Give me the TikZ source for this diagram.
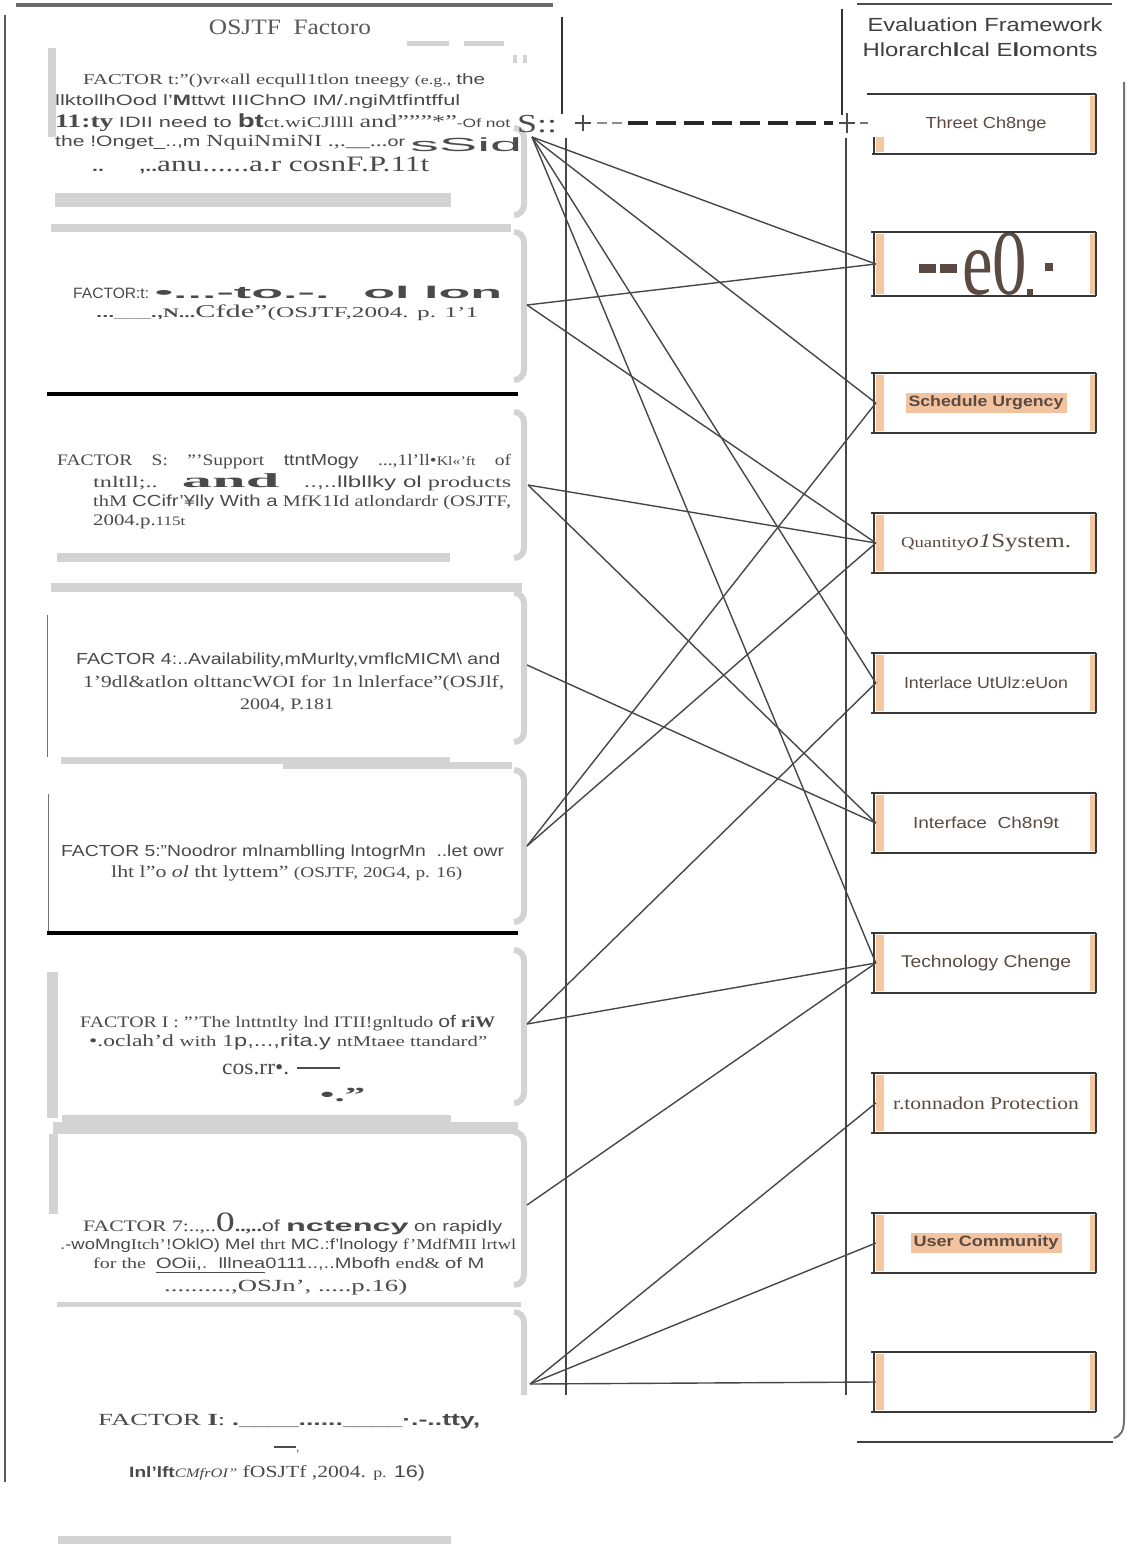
\documentclass[tikz,border=0pt]{standalone}
\usepackage{fontspec}
\setmainfont{Liberation Serif}
\setsansfont{Liberation Sans}
\usetikzlibrary{calc}
\definecolor{txt}{HTML}{4A4A4A}
\definecolor{dtxt}{HTML}{3A3A3A}
\definecolor{btxt}{HTML}{5A4A42}
\definecolor{lgr}{HTML}{D3D3D3}
\definecolor{boxor}{HTML}{F5C7A1}
\definecolor{hl}{HTML}{F3C3A0}
\definecolor{ln}{HTML}{474747}
\definecolor{bl}{HTML}{383838}
\newcommand\fs[1]{\fontsize{#1pt}{#1pt}\selectfont}
\newcommand\tR{\rmfamily}
\newcommand\tS{\sffamily}
\newcommand\fw[2]{\resizebox{#1pt}{\height}{#2}}
\begin{document}
\begin{tikzpicture}[x=1pt,y=-1pt,
  txtl/.style={anchor=west,inner sep=0pt,text=txt},
  txtc/.style={anchor=center,inner sep=0pt,text=txt},
  edge/.style={draw=ln,line width=1.4pt},
  vline/.style={draw=ln,line width=1.6pt},
  bar/.style={fill=lgr},
  brk/.style={draw=lgr,line width=6pt,rounded corners=10pt},
  evbox/.style={rectangle,minimum width=220pt,minimum height=60pt,inner sep=0pt,text=btxt},
  boxline/.style={draw=bl,line width=1.8pt},
  dashline/.style={draw=black!85,line width=3.5pt,dash pattern=on 20pt off 8pt}
]
\useasboundingbox (0,0) rectangle (1127,1544);
\fill[white] (0,0) rectangle (1127,1544);

% ---------- left frame ----------
\draw[draw=black!58,line width=3.5pt] (16,5) -- (553,5);
\draw[draw=black!65,line width=1.6pt] (5,15) -- (5,1482);
\draw[draw=black!80,line width=1.3pt] (562,17) -- (562,114);
\node[txtc,text=black!65] (ttl) at (290,27) {\fw{162}{\tR\fs{22}OSJTF\ \ Factoro}};
\fill[bar] (407,41) rectangle (449,46);
\fill[bar] (464,41) rectangle (504,46);
\fill[bar] (513,55) rectangle (517,63);
\fill[bar] (523,55) rectangle (527,63);
\fill[bar] (48,48) rectangle (56,137);

% gray brackets
\draw[brk] (514,128) -- (524,128) -- (524,215) -- (514,215);
\draw[brk] (514,232) -- (524,232) -- (524,380) -- (514,380);
\draw[brk] (514,412) -- (524,412) -- (524,558) -- (514,558);
\draw[brk] (514,593) -- (524,593) -- (524,742) -- (514,742);
\draw[brk] (514,770) -- (524,770) -- (524,922) -- (514,922);
\draw[brk] (514,950) -- (524,950) -- (524,1103) -- (514,1103);
\draw[brk] (514,1132) -- (524,1132) -- (524,1285) -- (514,1285);
\draw[brk] (514,1312) -- (524,1312) -- (524,1395);

% gray bars and rules
\fill[bar] (55,193) rectangle (451,207);
\fill[bar] (51,224) rectangle (511,232);
\draw[draw=black,line width=4pt] (47,394) -- (518,394);
\fill[bar] (57,553) rectangle (450,562);
\fill[bar] (51,583) rectangle (522,592);
\draw[draw=black!55,line width=1pt] (47,615) -- (47,757);
\fill[bar] (61,757) rectangle (450,764);
\fill[bar] (283,762) rectangle (512,769);
\draw[draw=black!55,line width=1pt] (48,794) -- (48,933);
\draw[draw=black,line width=4pt] (47,933) -- (518,933);
\fill[bar] (47,972) rectangle (58,1118);
\fill[bar] (62,1115) rectangle (451,1122);
\fill[bar] (53,1122) rectangle (518,1134);
\fill[bar] (49,1134) rectangle (58,1214);
\fill[bar] (57,1302) rectangle (521,1307);
\fill[bar] (58,1536) rectangle (451,1545);

% ---------- factor texts ----------
% F1
\node[txtl] (f1a) at (83,81) {\fw{402}{\tR\fs{15}FACTOR t:"()vr«all ecqull1tlon tneegy {\fs{13}(e.g.,} \tS the}};
\node[txtl] (f1b) at (55,102) {\fw{405}{\tS\fs{15}llktollhOod l'{\bfseries M}ttwt IIIChnO IM/.ngiMtfintfful}};
\node[txtl] (f1c) at (55,123) {\fw{455}{\fs{15}{\tR\bfseries\fs{19}11:ty} \tS IDII need to {\bfseries\fs{19}bt}\tR ct.wiCJllll {\fs{18}and"""*"}\tS\fs{12}-Of not}};
\node[txtl,text=black!70] (f1s) at (517,124) {\fw{40}{\tR\fs{26}S::}};
\node[txtl] (f1d) at (55,143) {\fw{350}{\tS\fs{15}the !Onget\_..,m \tR\fs{17}NquiNmiNI .,.\_\_...\tS\fs{14}or}};
\node[txtl,text=black!70] (f1e) at (410,145) {\fw{112}{\tS\fs{19}sSid}};
\node[txtl] (f1f) at (92,165) {\fw{337}{\tS\bfseries\fs{15}..\hspace{25pt},..\tR\mdseries\fs{22}anu......a.r cosnF.P.11t}};
% F2
\node[txtl] (f2a) at (73,292) {\fw{429}{\tS\fs{15}FACTOR:t: \fw{334}{\bfseries\fs{17}•...-to.-. \ ol lon}}};
\node[txtl] (f2b) at (96,313) {\fw{382}{\tS\bfseries\fs{13}...\_\_\_.,\tR N...\mdseries\fs{18}Cfde''\fs{15}(OSJTF,2004. p. 1'1}};
% F3
\node[txtl] (f3a) at (57,462) {\fw{454}{\tR\fs{16}FACTOR\quad S:\quad "'Support\quad {\tS ttntMogy}\quad ...,1l'll•{\fs{13}Kl«'ft}\quad of}};
\node[txtl] (f3b) at (93,482) {\fw{418}{\tR\fs{16}tnltll;..\quad {\bfseries\fs{20}\scalebox{2}[1]{and}}\quad {\tS ..,..llbllky ol} products}};
\node[txtl] (f3c) at (93,502) {\fw{418}{\tR\fs{16}thM {\tS CCifr'¥lly With a} MfK1Id atlondardr (OSJTF,}};
\node[txtl] (f3d) at (93,522) {\fw{92}{\tR\fs{16}2004.p.{\fs{13}115t}}};
% F4
\node[txtl] (f4a) at (76,660) {\fw{424}{\tS\fs{16}FACTOR 4:..Availability,mMurlty,vmflcMICM\textbackslash\ and}};
\node[txtl] (f4b) at (83,683) {\fw{421}{\tR\fs{17}1'9dl\&atlon olttancWOI for 1n lnlerface''(OSJlf,}};
\node[txtl] (f4c) at (240,705) {\fw{94}{\tR\fs{16}2004, P.181}};
% F5
\node[txtl] (f5a) at (61,852) {\fw{443}{\tS\fs{16}FACTOR 5:"Noodror mlnamblling lntogrMn \ ..let owr}};
\node[txtl] (f5b) at (111,873) {\fw{351}{\tR\fs{17}lht l''o {\itshape ol} tht lyttem" {\fs{15}(OSJTF, 20G4, p. 16)}}};
% F6
\node[txtl] (f6a) at (80,1023) {\fw{415}{\tR\fs{16}FACTOR I : "'The lnttntlty lnd ITII!gnltudo {\tS\fs{17}of} {\bfseries riW}}};
\node[txtl] (f6b) at (89,1042) {\fw{398}{\tR\fs{17}•.oclah'd {\fs{15}with} 1{\tS p,...,rita.y} {\fs{15}ntMtaee ttandard"}}};
\node[txtl] (f6c) at (222,1069) {\fw{67}{\tR\fs{22}cos.rr•.}};
\draw[draw=black!70,line width=2pt] (297,1068) -- (340,1068);
\node[txtl] (f6d) at (320,1095) {\fw{45}{\tR\bfseries\fs{20}•.''}};
% F7
\node[txtl] (f7a) at (83,1224) {\fw{419}{\tR\fs{16}FACTOR 7:..,..{\fs{28}0}{\bfseries..,..}{\tS of \bfseries\scalebox{1.5}[1]{nctency}} {\tS\fs{15}on rapidly}}};
\node[txtl] (f7b) at (60,1246) {\fw{456}{\tS\fs{15}.-woMng{\tR Itch'!}OklO) Mel {\tR thrt} MC.:f'lnology {\tR f'MdfMII lrtwl}}};
\node[txtl] (f7c) at (93,1265) {\fw{391}{\tR\fs{15}for the \ {\tS\underline{OOii,.\ \ lllnea}0111..,..Mbofh} end\& {\tS of M}}};
\node[txtl] (f7d) at (164,1287) {\fw{243}{\tR\fs{17}..........,OSJn', .....p.16)}};
% F8
\node[txtl] (f8a) at (98,1422) {\fw{382}{\tR\fs{17}FACTOR {\bfseries I}: {\tS\bfseries .\_\_\_\_......\_\_\_\_·.-..tty,}}};
\draw[draw=black!70,line width=1.5pt] (274,1447) -- (296,1447);
\node[txtl] (f8c) at (296,1452) {\tS\fs{12},};
\node[txtl] (f8b) at (129,1473) {\fw{296}{\tS\bfseries\fs{15}Inl'lft{\tR\itshape\mdseries\fs{13}CMfrOI"} \tR\mdseries\fs{17}fOSJTf ,2004. {\fs{14}p.} \tS 16)}};

% ---------- right frame ----------
\draw[draw=black!70,line width=1.5pt] (857,4) -- (1112,4);
\draw[draw=black!80,line width=1.3pt] (842,9) -- (842,115);
\draw[draw=black!55,line width=2pt] (1124,82) -- (1124,1420) .. controls (1124,1430) and (1121,1436) .. (1114,1438);
\draw[draw=black!75,line width=1.8pt] (857,1442) -- (1113,1442);
\node[txtc,text=black!75] (rt1) at (985,25) {\fw{235}{\tS\fs{19}Evaluation Framework}};
\node[txtc,text=black!75] (rt2) at (980,50) {\fw{235}{\tS\fs{19}Hlorarch{\bfseries l}cal E{\bfseries l}omonts}};

% ---------- evaluation boxes ----------
\node[evbox] (t1) at (986,124) {\fw{121}{\tS\fs{16}Threet Ch8nge}};
\node[evbox] (t2) at (986,264) {\rule[22pt]{17pt}{9pt}\hspace{4pt}\rule[22pt]{17pt}{9pt}\hspace{5pt}\resizebox{65pt}{62pt}{\tR e0}\rule{6pt}{6pt}\hspace{12pt}\rule[24pt]{8pt}{8pt}};
\node[evbox] (t3) at (986,403) {\colorbox{hl}{\fw{155}{\tS\bfseries\fs{15}Schedule Urgency}}};
\node[evbox] (t4) at (986,543) {\fw{170}{\tR\fs{15}Quantity{\itshape\fs{20}o1}{\fs{20}System.}}};
\node[evbox] (t5) at (986,683) {\fw{164}{\tS\fs{16}Interlace UtUlz:eUon}};
\node[evbox] (t6) at (986,823) {\fw{146}{\tS\fs{16}Interface \ Ch8n9t}};
\node[evbox] (t7) at (986,963) {\fw{170}{\tS\fs{17}Technology Chenge}};
\node[evbox] (t8) at (986,1103) {\fw{186}{\tR\fs{18}r.tonnadon Protection}};
\node[evbox] (t9) at (986,1243) {\colorbox{hl}{\fw{145}{\tS\bfseries\fs{15}User Community}}};
\node[evbox] (t10) at (986,1382) {};

\foreach \n in {t2,t3,t4,t5,t6,t7,t8,t9,t10}{
  \fill[boxor] ($(\n.north west)+(0,2)$) rectangle ($(\n.south west)+(8,-2)$);
  \draw[boxline] ($(\n.north west)+(-2,0)$) -- ($(\n.south west)+(-2,0)$);
  \draw[boxline] ($(\n.north west)+(-5,0)$) -- (\n.north east);
  \draw[boxline] ($(\n.south west)+(-5,0)$) -- (\n.south east);
}
\fill[boxor] ($(t1.south west)+(0,-17)$) rectangle ($(t1.south west)+(8,-2)$);
\draw[boxline] ($(t1.south west)+(-2,-17)$) -- ($(t1.south west)+(-2,0)$);
\draw[boxline] ($(t1.north west)+(-9,0)$) -- (t1.north east);
\draw[boxline] ($(t1.south west)+(-4,0)$) -- (t1.south east);
\foreach \n in {t1,t2,t3,t4,t5,t6,t7,t8,t9,t10}{
  \fill[boxor] ($(\n.north east)+(-6,2)$) rectangle ($(\n.south east)+(0,-2)$);
  \draw[boxline] (\n.north east) -- (\n.south east);
}

% ---------- vertical guide lines ----------
\coordinate (v1t) at (566,138); \coordinate (v1b) at (566,1395);
\coordinate (v2t) at (846,138); \coordinate (v2b) at (846,1395);
\draw[vline] (v1t) -- (v1b);
\draw[vline] (v2t) -- (v2b);

% ---------- dashed link ----------
\draw[draw=black!70,line width=1.2pt] (575,123) -- (591,123) (583,115) -- (583,131);
\draw[draw=black!45,line width=2pt] (597,123) -- (607,123) (612,123) -- (622,123);
\coordinate (ds1) at (628,123); \coordinate (ds2) at (833,123);
\draw[dashline] (ds1) -- (ds2);
\draw[draw=black!70,line width=1.2pt] (839,123) -- (855,123) (847,113) -- (847,133);
\draw[draw=black!55,line width=2pt] (860,123) -- (868,123);

% ---------- connectors ----------
\coordinate (a1) at (532,137);
\coordinate (a2) at (527,305);
\coordinate (a3) at (528,485);
\coordinate (a4) at (527,665);
\coordinate (a5) at (527,846);
\coordinate (a6) at (527,1024);
\coordinate (a7) at (527,1205);
\coordinate (a8) at (530,1384);
\draw[edge] (a1) -- (t2.west);
\draw[edge] (a1) -- (t3.west);
\draw[edge] (a1) -- (t5.west);
\draw[edge] (a1) -- (t7.west);
\draw[edge] (a2) -- (t2.west);
\draw[edge] (a2) -- (t4.west);
\draw[edge] (a3) -- (t4.west);
\draw[edge] (a3) -- (t6.west);
\draw[edge] (a4) -- (t6.west);
\draw[edge] (a5) -- (t3.west);
\draw[edge] (a5) -- (t4.west);
\draw[edge] (a6) -- (t5.west);
\draw[edge] (a6) -- (t7.west);
\draw[edge] (a7) -- (t7.west);
\draw[edge] (a8) -- (t8.west);
\draw[edge] (a8) -- (t9.west);
\draw[edge] (a8) -- (t10.west);
\end{tikzpicture}
\end{document}
